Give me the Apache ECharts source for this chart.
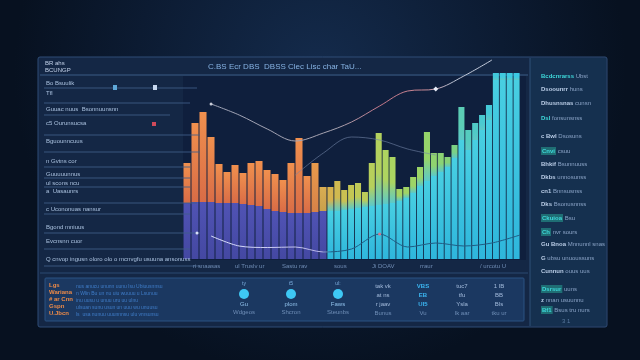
<!DOCTYPE html>
<html><head><meta charset="utf-8">
<script src="https://cdn.jsdelivr.net/npm/echarts@6/dist/echarts.min.js"></script>
<style>html,body{margin:0;padding:0;background:#0a1628;}#c{width:640px;height:360px;}</style>
</head><body><div id="c"></div><script>
// ---- data (y in 0..100 units) ----
const leftTotals = [48,68,73.5,61,47.5,43.5,47,43,48,49,44.5,42.5,39.5,48,60.5,41.5,48,36];
const leftBase   = [28,28.5,28.5,28.5,28,28,28,27.5,27,26.5,25,24,23.5,23,23,23,23.5,24];
const rightTotals = [36,39,34.5,37,38,33.5,48,63,54.5,51,35,36,41,46,63.5,53,53,51,57,76,64.5,68,72,77,93,93,93,93];
const rightBase   = [24,24,24.5,25,25.5,26,26.5,27,27.5,28,29,30.5,33,36.5,39,41.5,43.5,46,50.5,59.5,54.5,59.5,64.5,69.5,89.5,89.5,89.5,89.5];
const trendUpper = [null,77.5,72,65,59,63,68.5,76.5,84,85,91.5,99.5,null];
const trendMid   = [null,null,null,null,42,53,61,59.5,55,52,null,null,null];
const trendLower = [null,11.5,6.5,5.75,6,3.5,5,12.5,6,8,6.5,8,12];
const axisTexts = ['ri snaasas','ul Truslv ur','Sastu rav','sous','Ji DOAV','rraur','/ urcotu U'];
const headTitle = 'C.BS Ecr DBS  DBSS Clec Lisc char TaU...';
const cornerTexts = ['BR ahs','BCUNGP'];
const sideRows = ['Bo Bsuulik','Tfl','Guuac nuus  Bsonnuunsnn','c5 Ourunsucsa','Bguounncuus','n Gvtns cor','Guuuuunnus','ul scons ncu','a  Uasaunrs','c Ucononuas nansur','Bgond mniuus','Evcnsnn cuor','Q cnvop ingusn oloro olo o mcnvgfu usuuna ansonuss'];
const legendChips = ['Bcdcnrarss','Dsoounrr','Dhusnsnas','Dsl','c Bwl','Cnvi','Bhkif','Dkbs','cn1','Dks','Ckuioa','Ch','Gu Bnoa','G','Cunnun','Dsrsur','z','Bf1'];
const legendRest  = ['Ubst','huns','cunsn','fonsunsnss','Dsosuns','csuu','Bsunnuuss','unnosunss','Bnnsusnss','Bsonusnnss','Bsu','nvr sours','Mnnunnl snas','ubsu unuoussuns','ouus uus','uuns','nnan usuunnu','Bsus tru nurs'];
const orangeLines = ['Lgs','Wariana','# ar Cnn','Gspn','U.Jbcn'];
const blueLines = ['nus anucu ununn uunu lsu Ubiuusnnsu','n Wlin Bu un nu uiu wuuuu u Lsunuu','inu uusu u unuu uru uu ulnu','ulsuan sunu usun un uuu wu unuusu','ls  usa nunuu uuunnnsu ulu vmsunsu'];
const circleCols = [['ty','Gu','Wdgeos'],['t5','plom','Shcron'],['ul:','Faws','Steunbs']];
const textCols = [['tak vk','at ns','r jaav','Bunus'],['VBS','EB','Ul5','Vu'],['tuc7','tfu','Ysla','Ik aar'],['1 IB','BB','Bls','tku ur']];

// ---- helpers ----
function hex(c){return [parseInt(c.slice(1,3),16),parseInt(c.slice(3,5),16),parseInt(c.slice(5,7),16)];}
function mix(a,b,t){const A=hex(a),B=hex(b);return 'rgb('+A.map((v,i)=>Math.round(v+(B[i]-v)*t)).join(',')+')';}
function ramp(stops,t){for(let i=1;i<stops.length;i++){if(t<=stops[i][0]){const s=stops[i-1],e=stops[i];return mix(s[1],e[1],(t-s[0])/(e[0]-s[0]));}}return stops[stops.length-1][1];}
function vgrad(top,bot){return {type:'linear',x:0,y:0,x2:0,y2:1,colorStops:[{offset:0,color:top},{offset:1,color:bot}]};}

const leftTopColors = leftTotals.map((_,i)=> i<16 ? vgrad('#f0904e','#d96c46') : (i===16? vgrad('#e89a4c','#d78248') : vgrad('#d9ad52','#c9a04c')));
const rStops=[[0,'#d6b24e'],[0.12,'#c2c855'],[0.3,'#aed460'],[0.5,'#98d468'],[0.66,'#82d27c'],[0.7,'#5ccdb4'],[0.85,'#44c9d8'],[1,'#3ccae4']];
const rightTopColors = rightTotals.map((_,i)=>{const c=ramp(rStops,i/(rightTotals.length-1));return {type:'linear',x:0,y:0,x2:0,y2:1,colorStops:[{offset:0,color:c},{offset:0.55,color:c},{offset:1,color:'#5cc9c8'}]};});

const chart = echarts.init(document.getElementById('c'));
const FONT = 'Liberation Sans, Arial, sans-serif';
const els = [];
// background panels
els.push({type:'rect',z:0,shape:{x:38,y:57,width:569,height:270,r:2},style:{fill:'#142745',stroke:'#2f4d77',lineWidth:1}});
els.push({type:'rect',z:0,shape:{x:530,y:58,width:76,height:268},style:{fill:'#15304f'}});
els.push({type:'rect',z:0,shape:{x:183,y:76,width:343,height:184},style:{fill:'#0f1f3d'}});
els.push({type:'line',z:0,shape:{x1:40,y1:75,x2:528,y2:75},style:{stroke:'#3a5d86',lineWidth:1}});
els.push({type:'line',z:0,shape:{x1:530,y1:58,x2:530,y2:326},style:{stroke:'#2f5078',lineWidth:1}});
els.push({type:'line',z:0,shape:{x1:40,y1:273,x2:528,y2:273},style:{stroke:'#2a4a72',lineWidth:1}});
els.push({type:'rect',z:0,shape:{x:45,y:278,width:479,height:43,r:1},style:{fill:'#1b3861',stroke:'#2b5283',lineWidth:1}});
// header texts
els.push({type:'text',z:10,style:{text:cornerTexts[0],x:45,y:60,font:'6px '+FONT,fill:'#c3d2ea'}});
els.push({type:'text',z:10,style:{text:cornerTexts[1],x:45,y:67,font:'6px '+FONT,fill:'#c3d2ea'}});
els.push({type:'text',z:10,style:{text:headTitle,x:208,y:63,font:'8px '+FONT,fill:'#86b2e2'}});
// left side rows
const rowTextY=[80,90,106,120,138,158,171,180,188,206,224,238,256];
const rowLineY=[[88,197],[103,190],[115,170],[135,200],[152,200],[167,190],[178,190],[187,190],[203,197],[214,190],[233,200],[249,190],[266,200]];
sideRows.forEach((t,i)=>{els.push({type:'text',z:10,style:{text:t,x:46,y:rowTextY[i],font:'6px '+FONT,fill:'#a9c0de'}});});
rowLineY.forEach(([y,x2])=>{els.push({type:'line',z:10,shape:{x1:44,y1:y,x2:x2,y2:y},style:{stroke:'#3f5e88',lineWidth:1,opacity:0.85}});});
els.push({type:'rect',z:10,shape:{x:113,y:85,width:4,height:5},style:{fill:'#5fa8d8'}});
els.push({type:'rect',z:10,shape:{x:153,y:85,width:4,height:5},style:{fill:'#c8d8f0'}});
els.push({type:'rect',z:10,shape:{x:152,y:122,width:4,height:4},style:{fill:'#d04a5a'}});
els.push({type:'circle',z:10,shape:{cx:197,cy:233,r:1.5},style:{fill:'#d8e0f8'}});
// axis-ish labels
const axisX=[193,235,282,334,372,420,480];
axisTexts.forEach((t,i)=>els.push({type:'text',z:10,style:{text:t,x:axisX[i],y:263,font:'6px '+FONT,fill:'#6f8cb4'}}));
// right legend column
const legY=[73,86,100,115,133,147,161,174,188,201,214,228,241,255,268,285,297,306];
legendChips.forEach((t,i)=>{
  const hi=[0,3,5,10,11,15,17].includes(i);
  els.push({type:'text',z:10,style:{text:'{a|'+t+'} {b|'+legendRest[i]+'}',x:541,y:legY[i],font:'6px '+FONT,
    rich:{a:{fill:hi?'#3ed8da':'#b9cce6',font:'bold 6px '+FONT,backgroundColor:hi&&i>3?'#1f6e74':null,padding:hi&&i>3?[1,1]:0},b:{fill:'#8aa3c6',font:'6px '+FONT}}}});
});
els.push({type:'text',z:10,style:{text:'3 1',x:562,y:318,font:'6px '+FONT,fill:'#5a7aa0'}});
// bottom strip
orangeLines.forEach((t,i)=>els.push({type:'text',z:10,style:{text:t,x:49,y:282+i*7,font:'bold 6px '+FONT,fill:'#ec8a48'}}));
blueLines.forEach((t,i)=>els.push({type:'text',z:10,style:{text:t,x:76,y:284+i*7,font:'5px '+FONT,fill:'#3f7cc8'}}));
const circX=[244,291,338];
circleCols.forEach((c,i)=>{const x=circX[i];
  els.push({type:'text',z:10,style:{text:c[0],x:x,y:281,font:'5px '+FONT,fill:'#7fb0e0',align:'center'}});
  els.push({type:'circle',z:10,shape:{cx:x,cy:294,r:5},style:{fill:'#3ec8f4'}});
  els.push({type:'text',z:10,style:{text:c[1],x:x,y:301,font:'6px '+FONT,fill:'#8fc0ea',align:'center'}});
  els.push({type:'text',z:10,style:{text:c[2],x:x,y:309,font:'6px '+FONT,fill:'#6e8db6',align:'center'}});});
const tcX=[383,423,462,499];
textCols.forEach((c,i)=>{const x=tcX[i];
  c.forEach((t,j)=>els.push({type:'text',z:10,style:{text:t,x:x,y:283+j*9,font:(i===1&&j<3?'bold ':'')+'6px '+FONT,fill:i===1&&j<3?'#3cb6f2':(j===3?'#6e8db6':'#a3bbdc'),align:'center'}}));});

const barCommon = {type:'bar',barCategoryGap:'12%',z:3};
const option = {
  animation:false,
  backgroundColor:{type:'radial',x:0.5,y:0.2,r:0.85,colorStops:[{offset:0,color:'#142b4c'},{offset:0.6,color:'#0c1b32'},{offset:1,color:'#071120'}]},
  grid:[{left:183,top:59,width:144,height:200},{left:327,top:59,width:193,height:200},{left:183,top:59,width:337,height:200}],
  xAxis:[
    {type:'category',gridIndex:0,data:leftTotals.map((_,i)=>'L'+i),show:false},
    {type:'category',gridIndex:1,data:rightTotals.map((_,i)=>'R'+i),show:false},
    {type:'category',gridIndex:2,boundaryGap:false,data:trendUpper.map((_,i)=>'T'+i),show:false}],
  yAxis:[0,1,2].map(g=>({type:'value',gridIndex:g,min:0,max:100,show:false})),
  series:[
    Object.assign({},barCommon,{xAxisIndex:0,yAxisIndex:0,stack:'L',data:leftBase,itemStyle:{color:vgrad('#5053b4','#4448a2')}}),
    Object.assign({},barCommon,{xAxisIndex:0,yAxisIndex:0,stack:'L',data:leftTotals.map((v,i)=>({value:+(v-leftBase[i]).toFixed(2),itemStyle:{color:leftTopColors[i]}}))}),
    Object.assign({},barCommon,{xAxisIndex:1,yAxisIndex:1,stack:'R',data:rightBase,itemStyle:{color:vgrad('#48cfe2','#2eb6dc')}}),
    Object.assign({},barCommon,{xAxisIndex:1,yAxisIndex:1,stack:'R',data:rightTotals.map((v,i)=>({value:+(v-rightBase[i]).toFixed(2),itemStyle:{color:rightTopColors[i]}}))}),
    {type:'line',xAxisIndex:2,yAxisIndex:2,z:5,smooth:0.35,showSymbol:true,symbol:'none',clip:false,
      data:trendUpper.map((v,i)=>i===1?{value:v,symbol:'circle',symbolSize:3,itemStyle:{color:'#c8ccd8'}}:(i===9?{value:v,symbol:'diamond',symbolSize:5,itemStyle:{color:'#e8ecf8'}}:v)),
      lineStyle:{width:1,color:{type:'linear',x:0,y:0,x2:1,y2:0,colorStops:[{offset:0,color:'#9ea3b6'},{offset:0.45,color:'#a7a3b0'},{offset:0.6,color:'#c27688'},{offset:0.75,color:'#c98894'},{offset:0.85,color:'#b8bfd0'},{offset:1,color:'#c8d0e0'}]}}},
    {type:'line',xAxisIndex:2,yAxisIndex:2,z:5,smooth:0.35,symbol:'none',data:trendMid,lineStyle:{width:1,color:'#7386a8',opacity:0.6}},
    {type:'line',xAxisIndex:2,yAxisIndex:2,z:5,smooth:0.3,showSymbol:true,symbol:'none',
      data:trendLower.map((v,i)=>i===7?{value:v,symbol:'circle',symbolSize:3,itemStyle:{color:'#d6788c'}}:v),
      lineStyle:{width:1,color:{type:'linear',x:0,y:0,x2:1,y2:0,colorStops:[{offset:0,color:'#e0e6ff'},{offset:0.36,color:'#b8b6e6'},{offset:0.39,color:'#1e5c84'},{offset:1,color:'#1e5c84'}]}}}
  ],
  graphic:{elements:els}
};
chart.setOption(option);
</script></body></html>
